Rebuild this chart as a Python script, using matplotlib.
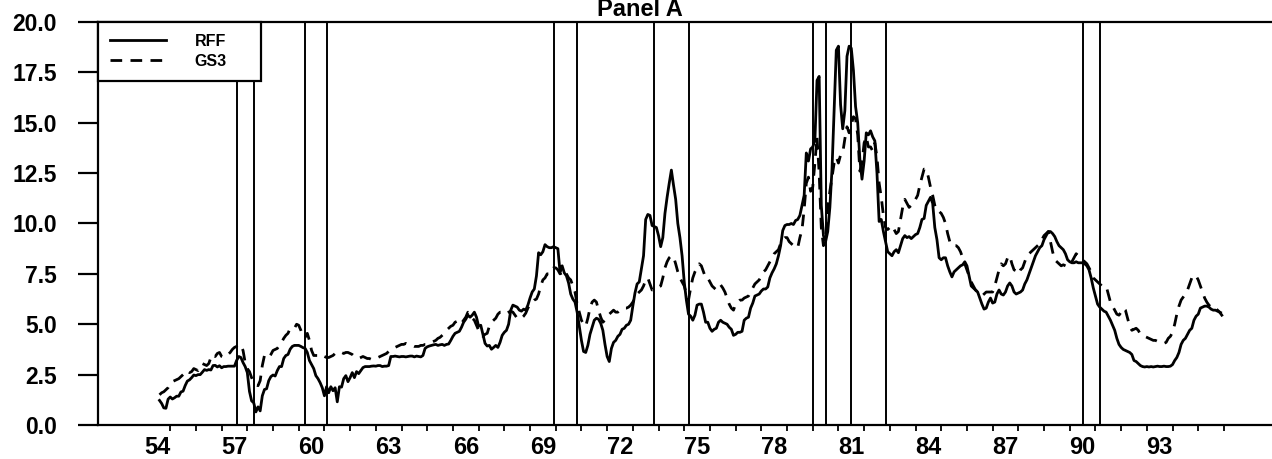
import numpy as np
import matplotlib
matplotlib.use('Agg')
import matplotlib.pyplot as plt

# monthly data, Aug 1954 - Dec 1995
start_year, start_month = 1954, 8

rff = [
    1.22, 1.07, 0.85, 0.83, 1.28,
    1.39, 1.29, 1.35, 1.43, 1.43, 1.64, 1.68, 1.96, 2.18, 2.24, 2.35, 2.48,
    2.45, 2.50, 2.50, 2.62, 2.75, 2.71, 2.75, 2.73, 2.95, 2.96, 2.88, 2.94,
    2.84, 2.90, 2.90, 2.92, 2.92, 2.92, 2.92, 3.20, 3.40, 3.35, 3.10, 2.90,
    2.60, 1.67, 1.20, 1.10, 0.65, 0.90, 0.70, 1.45, 1.76, 1.80, 2.20, 2.40,
    2.48, 2.43, 2.70, 2.90, 2.90, 3.30, 3.45, 3.50, 3.76, 3.90, 3.95, 3.95,
    3.95, 3.90, 3.84, 3.80, 3.60, 3.20, 3.00, 2.80, 2.45, 2.30, 2.10, 1.85,
    1.45, 1.90, 1.60, 1.90, 1.70, 1.85, 1.15, 1.90, 1.88, 2.30, 2.45, 2.15,
    2.35, 2.60, 2.35, 2.65, 2.55, 2.70, 2.85, 2.90, 2.90, 2.90, 2.92, 2.93,
    2.92, 2.95, 2.95, 2.90, 2.92, 2.92, 2.95, 3.40, 3.40, 3.42, 3.40, 3.38,
    3.40, 3.40, 3.38, 3.40, 3.42, 3.42, 3.38, 3.42, 3.40, 3.38, 3.45, 3.80,
    3.88, 3.92, 3.95, 3.98, 4.00, 3.95, 3.98, 4.00, 3.95, 4.00, 4.02, 4.20,
    4.40, 4.55, 4.60, 4.65, 4.85, 5.10, 5.25, 5.45, 5.35, 5.45, 5.60, 5.35,
    4.90, 4.95, 4.50, 4.05, 3.92, 3.95, 3.76, 3.85, 3.95, 3.85, 4.10, 4.45,
    4.60, 4.70, 5.00, 5.70, 5.95, 5.90, 5.85, 5.70, 5.65, 5.75, 5.70, 5.95,
    6.30, 6.60, 6.75, 7.40, 8.55, 8.45, 8.60, 8.95, 8.85, 8.80, 8.80, 8.85,
    8.80, 8.75, 7.60, 7.90, 7.55, 7.40, 7.05, 6.50, 6.25, 6.10, 5.60, 4.90,
    4.20, 3.65, 3.60, 3.95, 4.50, 4.85, 5.20, 5.30, 5.25, 5.05, 4.70, 4.00,
    3.40, 3.15, 3.80, 4.10, 4.20, 4.40, 4.50, 4.75, 4.80, 4.95, 5.00, 5.20,
    5.90, 6.55, 7.00, 7.10, 7.75, 8.40, 10.20, 10.45, 10.40, 9.90, 9.85, 9.80,
    9.40, 8.85, 9.30, 10.50, 11.30, 12.00, 12.65, 11.90, 11.20, 10.00, 9.30, 8.40,
    7.10, 6.20, 5.50, 5.40, 5.20, 5.45, 5.95, 6.00, 6.00, 5.60, 5.10, 5.10,
    4.80, 4.65, 4.75, 4.80, 5.10, 5.20, 5.10, 5.05, 5.00, 4.85, 4.75, 4.45,
    4.50, 4.60, 4.60, 4.65, 5.20, 5.30, 5.35, 5.80, 6.05, 6.40, 6.45, 6.50,
    6.65, 6.75, 6.75, 6.85, 7.30, 7.55, 7.75, 8.00, 8.40, 8.90, 9.65, 9.90,
    9.95, 9.95, 10.00, 9.95, 10.15, 10.20, 10.40, 10.90, 11.40, 13.50, 13.10, 13.70,
    13.80, 14.10, 17.10, 17.30, 10.90, 9.40, 9.10, 9.60, 10.80, 12.70, 15.70, 18.60,
    18.80, 15.90, 14.70, 15.60, 18.30, 18.80, 18.70, 17.60, 15.80, 15.00, 13.20, 12.20,
    13.10, 14.50, 14.40, 14.60, 14.30, 14.10, 12.50, 10.10, 10.20, 9.60, 9.10, 8.60,
    8.50, 8.40, 8.60, 8.70, 8.55, 8.90, 9.25, 9.40, 9.30, 9.35, 9.25, 9.35,
    9.45, 9.50, 9.80, 10.20, 10.25, 10.90, 11.10, 11.30, 11.00, 9.80, 9.20, 8.30,
    8.20, 8.30, 8.30, 7.90, 7.60, 7.35, 7.60, 7.70, 7.80, 7.90, 7.95, 8.10,
    7.90, 7.40, 6.90, 6.80, 6.70, 6.60, 6.30, 6.00, 5.75, 5.80, 6.10, 6.30,
    6.05, 6.10, 6.50, 6.70, 6.50, 6.45, 6.60, 6.90, 7.05, 6.90, 6.60, 6.50,
    6.55, 6.60, 6.70, 7.00, 7.20, 7.50, 7.80, 8.10, 8.40, 8.60, 8.80, 8.90,
    9.20, 9.40, 9.60, 9.60, 9.50, 9.35, 9.10, 8.90, 8.80, 8.70, 8.50, 8.20,
    8.10, 8.05, 8.05, 8.10, 8.05, 8.05, 8.05, 8.00, 7.90, 7.70, 7.30, 6.80,
    6.40, 6.00, 5.85, 5.75, 5.65, 5.60, 5.40, 5.20, 4.95, 4.70, 4.30, 4.00,
    3.85, 3.75, 3.70, 3.65, 3.60, 3.50, 3.20, 3.15, 3.05, 2.95, 2.90, 2.88,
    2.90, 2.88, 2.90, 2.88, 2.90, 2.92, 2.90, 2.90, 2.92, 2.90, 2.90, 2.92,
    3.00, 3.20, 3.35, 3.60, 4.00, 4.20, 4.30, 4.50, 4.70, 4.80, 5.20, 5.40,
    5.50, 5.80, 5.85, 5.90, 5.90, 5.85, 5.75, 5.70, 5.70, 5.65, 5.60, 5.45,
]

gs3 = [
    1.50, 1.60, 1.65, 1.75, 1.85,
    2.05, 2.15, 2.20, 2.25, 2.30, 2.40, 2.50, 2.65, 2.70, 2.60, 2.65, 2.80,
    2.75, 2.70, 2.85, 3.05, 3.00, 2.95, 3.05, 3.35, 3.50, 3.40, 3.55, 3.60,
    3.40, 3.35, 3.40, 3.50, 3.60, 3.75, 3.85, 3.90, 4.00, 3.95, 3.70, 3.10,
    2.80, 2.65, 2.35, 2.10, 2.00, 1.95, 2.20, 2.95, 3.45, 3.45, 3.35, 3.50,
    3.70, 3.75, 3.80, 3.95, 4.10, 4.30, 4.45, 4.55, 4.80, 4.80, 4.80, 5.00,
    4.95, 4.70, 4.35, 4.35, 4.55, 4.20, 3.70, 3.45, 3.45, 3.45, 3.50, 3.40,
    3.40, 3.35, 3.35, 3.40, 3.45, 3.55, 3.60, 3.65, 3.60, 3.55, 3.60, 3.60,
    3.55, 3.50, 3.40, 3.35, 3.30, 3.35, 3.40, 3.35, 3.30, 3.30, 3.25, 3.30,
    3.30, 3.35, 3.40, 3.45, 3.50, 3.55, 3.65, 3.70, 3.80, 3.85, 3.90, 3.95,
    4.00, 4.00, 4.05, 4.00, 3.95, 3.95, 3.90, 3.90, 3.90, 3.95, 3.95, 4.00,
    4.00, 4.05, 4.10, 4.15, 4.20, 4.30, 4.35, 4.45, 4.55, 4.70, 4.80, 4.90,
    4.95, 5.10, 5.15, 5.00, 5.05, 5.20, 5.35, 5.60, 5.55, 5.30, 5.20, 4.95,
    4.70, 4.50, 4.40, 4.50, 4.55, 4.90, 5.10, 5.20, 5.30, 5.50, 5.60, 5.60,
    5.50, 5.55, 5.60, 5.65, 5.60, 5.45, 5.30, 5.25, 5.30, 5.40, 5.55, 5.80,
    6.00, 6.10, 6.20, 6.25, 6.50, 6.90, 7.20, 7.30, 7.50, 7.50, 7.60, 7.80,
    7.80, 7.70, 7.50, 7.55, 7.70, 7.50, 7.30, 7.20, 6.90, 6.60, 6.00, 5.60,
    5.20, 5.00, 4.90, 5.30, 5.80, 6.10, 6.20, 6.10, 5.70, 5.35, 5.10, 5.20,
    5.35, 5.50, 5.60, 5.70, 5.60, 5.60, 5.70, 5.75, 5.80, 5.80, 5.85, 5.95,
    6.10, 6.30, 6.50, 6.60, 6.70, 6.90, 7.20, 7.30, 7.00, 6.70, 6.70, 6.75,
    6.85, 6.90, 7.30, 7.80, 8.10, 8.30, 8.40, 8.35, 8.00, 7.60, 7.30, 7.10,
    6.90, 6.50, 6.20, 6.80, 7.30, 7.60, 7.80, 8.00, 7.90, 7.60, 7.30, 7.30,
    7.10, 6.90, 6.80, 6.70, 6.90, 6.95, 6.80, 6.60, 6.30, 6.00, 5.80, 5.70,
    6.00, 6.10, 6.20, 6.20, 6.30, 6.35, 6.40, 6.60, 6.80, 7.00, 7.10, 7.20,
    7.40, 7.60, 7.70, 7.90, 8.10, 8.30, 8.50, 8.60, 8.70, 9.00, 9.20, 9.30,
    9.30, 9.10, 9.00, 8.90, 8.80, 8.80, 9.30, 9.70, 10.70, 12.00, 12.30, 11.60,
    11.80, 13.00, 14.30, 12.50, 9.80, 8.90, 9.30, 10.80, 11.60, 12.30, 13.00, 13.30,
    13.00, 13.40, 13.50, 14.20, 14.80, 14.50, 14.90, 15.30, 15.20, 14.40, 12.60, 13.00,
    14.00, 14.30, 13.80, 13.80, 13.60, 14.00, 13.30, 12.00, 11.30, 10.40, 9.80, 9.70,
    9.80, 9.60, 9.70, 9.50, 9.60, 10.20, 10.80, 11.20, 11.00, 10.80, 10.90, 11.00,
    11.20, 11.40, 11.90, 12.30, 12.70, 12.70, 12.30, 11.80, 11.40, 10.90, 10.60, 10.60,
    10.50, 10.30, 10.00, 9.50, 9.10, 8.90, 8.90, 8.90, 8.80, 8.60, 8.30, 8.00,
    7.70, 7.40, 7.10, 6.90, 6.70, 6.60, 6.50, 6.40, 6.50, 6.60, 6.60, 6.60,
    6.60, 6.90, 7.30, 7.70, 8.00, 7.90, 8.00, 8.30, 8.40, 8.00, 7.70, 7.65,
    7.50, 7.70, 7.80, 8.10, 8.40, 8.50, 8.60, 8.70, 8.80, 8.90, 9.00, 9.20,
    9.40, 9.50, 9.60, 9.10, 8.60, 8.20, 8.10, 8.00, 7.90, 7.95, 7.90, 7.85,
    7.90, 8.10, 8.30, 8.50, 8.40, 8.30, 8.20, 8.10, 8.00, 7.80, 7.60, 7.30,
    7.20, 7.10, 7.00, 6.90, 6.90, 6.90, 6.50, 6.10, 5.90, 5.70, 5.50, 5.45,
    5.60, 5.80, 5.70, 5.30, 4.90, 4.70, 4.75, 4.80, 4.70, 4.50, 4.45, 4.40,
    4.35, 4.30, 4.25, 4.20, 4.20, 4.15, 4.10, 4.05, 4.05, 4.10, 4.30, 4.40,
    4.60, 5.00, 5.50, 5.90, 6.20, 6.35, 6.50, 6.70, 7.00, 7.30, 7.45, 7.40,
    7.20, 6.90, 6.60, 6.30, 6.10, 5.95, 5.85, 5.90, 5.80, 5.70, 5.60, 5.55,
]

# business cycle peaks and troughs (year, month)
turning_points = [(1957, 8), (1958, 4), (1960, 4), (1961, 2), (1969, 12), (1970, 11),
                  (1973, 11), (1975, 3), (1980, 1), (1980, 7), (1981, 7), (1982, 11),
                  (1990, 7), (1991, 3)]

label_years = list(range(1954, 1994, 3))
tick_labels = [str(y)[2:] for y in label_years]
y_ticks = [0.0, 2.5, 5.0, 7.5, 10.0, 12.5, 15.0, 17.5, 20.0]

plt.rcParams['font.family'] = ['Liberation Sans', 'DejaVu Sans']
plt.rcParams['font.weight'] = 'bold'

W, H = 1272, 459
fig = plt.figure(figsize=(W / 100, H / 100), dpi=100)
ax = fig.add_axes([98 / W, 1 - 425 / H, 1 - 98 / W, (425 - 22) / H])

t = start_year + (start_month - 1) / 12 + np.arange(len(rff)) / 12

for yr, mo in turning_points:
    ax.axvline(yr + (mo - 1) / 12, color='black', lw=1.4, zorder=1)

ax.plot(t, rff, color='black', lw=2.0, label='RFF', zorder=3)
ax.plot(t, gs3, color='black', lw=2.0, dashes=(4.2, 3.0), label='GS3', zorder=2)

ax.set_xlim(1952.19, 1997.87)
ax.set_ylim(0, 20)
ax.set_yticks(y_ticks)
ax.set_yticklabels(['%.1f' % v for v in y_ticks])
ax.tick_params(axis='y', length=14.5, width=1.6, pad=15, labelsize=16.5)

ax.set_xticks(range(1955, 1997))
ax.set_xticklabels([])
ax.set_xticks([y + 0.5 for y in label_years], minor=True)
ax.set_xticklabels(tick_labels, minor=True)
ax.tick_params(axis='x', which='major', length=4.5, width=1.3)
ax.tick_params(axis='x', which='minor', length=0, pad=8, labelsize=17)

ax.spines['right'].set_visible(False)
for s in ['left', 'top', 'bottom']:
    ax.spines[s].set_linewidth(1.6)

leg = ax.legend(loc='upper left', bbox_to_anchor=(0, 1, 163 / 1174, 0), mode='expand',
                borderaxespad=0, fancybox=False, edgecolor='black', framealpha=1,
                fontsize=11.5, handlelength=3.5, handletextpad=1.8, borderpad=0.75,
                labelspacing=0.3)
leg.get_frame().set_linewidth(1.6)

fig.text(0.503, 1 - 16 / H, 'Panel A', ha='center', va='baseline', fontsize=17,
         fontweight='bold')

fig.savefig('out.png', dpi=100)
